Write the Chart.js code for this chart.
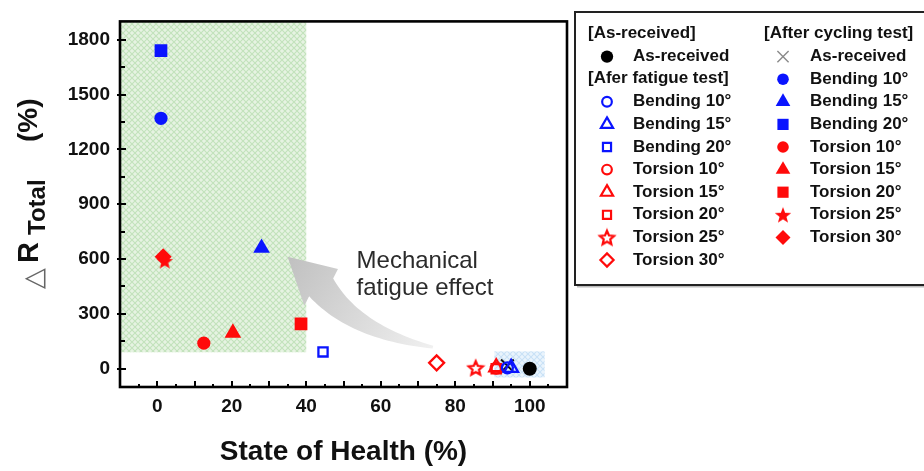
<!DOCTYPE html>
<html>
<head>
<meta charset="utf-8">
<script src="https://cdn.jsdelivr.net/npm/chart.js@4.4.1/dist/chart.umd.min.js"></script>
<style>
html,body{margin:0;padding:0;background:#fff;}
#wrap{width:924px;height:471px;position:relative;overflow:hidden;}
</style>
</head>
<body>
<div id="wrap"><canvas id="c" width="924" height="471"></canvas></div>
<script>
// ---------- data ----------
const seriesNames = ['Bending 10°','Bending 15°','Bending 20°','Torsion 10°','Torsion 15°','Torsion 20°','Torsion 25°','Torsion 30°'];
const asReceivedName = 'As-received';
const asReceivedSOH = [100];
const asReceivedDR = [0];
const cycledAsReceivedSOH = [94];
const cycledAsReceivedDR = [16];
const fatigueSOH = [94, 95, 44.5, 91, 91, 91, 85.5, 75];
const fatigueDR  = [5, 5, 92, 3, 8, 0, 5, 32];
const cyclingSOH = [1, 28, 1, 12.5, 20.3, 38.6, 2, 1.6];
const cyclingDR  = [1370, 660, 1740, 140, 196, 245, 590, 612];
const xTickLabels = [0, 20, 40, 60, 80, 100];
const yTickLabels = [0, 300, 600, 900, 1200, 1500, 1800];
const legendHeaders = ['[As-received]', '[Afer fatigue test]', '[After cycling test]'];
const xTitle = 'State of Health (%)';
const yTitleParts = ['△', 'R', 'Total', '(%)'];
const annotationLines = ['Mechanical', 'fatigue effect'];

// ---------- styling helpers ----------
const FONT = "'Liberation Sans', Arial, Helvetica, sans-serif";
Chart.defaults.font.family = FONT;
const BLUE = '#0a14ff', RED = '#ff0a0a';
const shapes = ['circle','triangle','rect','circle','triangle','rect','star','rectRot'];
const openRadius = {circle:5.5, triangle:8, rect:6.5, rectRot:7.5};
const fillRadius = {circle:6.6, triangle:9.6, rect:9, rectRot:8.5};

function starCanvas(color, filled) {
  const s = 20, c = document.createElement('canvas');
  c.width = s; c.height = s;
  const g = c.getContext('2d');
  const ro = filled ? 8.6 : 7.4, ri = filled ? 3.6 : 3.4;
  g.beginPath();
  for (let i = 0; i < 10; i++) {
    const r = i % 2 ? ri : ro;
    const a = -Math.PI / 2 + i * Math.PI / 5;
    const px = s / 2 + r * Math.cos(a), py = s / 2 + 0.8 + r * Math.sin(a);
    i ? g.lineTo(px, py) : g.moveTo(px, py);
  }
  g.closePath();
  if (filled) { g.fillStyle = color; g.fill(); }
  else { g.strokeStyle = color; g.lineWidth = 2.2; g.lineJoin = 'miter'; g.stroke(); }
  return c;
}

function pt(xv, yv) { return [{x: xv, y: yv}]; }

const datasets = [];
datasets.push({
  label: asReceivedName, group: 0, data: pt(asReceivedSOH[0], asReceivedDR[0]),
  pointStyle: 'circle', pointRadius: 7, pointBackgroundColor: '#000', pointBorderColor: '#000', pointBorderWidth: 0,
  legendColor: '#000'
});
seriesNames.forEach((n, i) => {
  const col = i < 3 ? BLUE : RED, sh = shapes[i];
  datasets.push({
    label: n, group: 1, data: pt(fatigueSOH[i], fatigueDR[i]),
    pointStyle: sh === 'star' ? starCanvas(col, false) : sh,
    pointRadius: sh === 'star' ? 8 : openRadius[sh],
    pointBackgroundColor: 'rgba(255,255,255,0)', pointBorderColor: col, pointBorderWidth: 2.3,
    legendColor: col, open: true
  });
});
datasets.push({
  label: asReceivedName, group: 2, data: pt(cycledAsReceivedSOH[0], cycledAsReceivedDR[0]),
  pointStyle: 'crossRot', pointRadius: 9, pointBackgroundColor: '#000', pointBorderColor: '#111', pointBorderWidth: 2,
  legendColor: '#8a8a8a'
});
seriesNames.forEach((n, i) => {
  const col = i < 3 ? BLUE : RED, sh = shapes[i];
  datasets.push({
    label: n, group: 2, data: pt(cyclingSOH[i], cyclingDR[i]),
    pointStyle: sh === 'star' ? starCanvas(col, true) : sh,
    pointRadius: sh === 'star' ? 9 : fillRadius[sh],
    pointBackgroundColor: col, pointBorderColor: col, pointBorderWidth: 0,
    legendColor: col
  });
});

function makePattern(ctx, bg, line) {
  const p = document.createElement('canvas'); p.width = 6; p.height = 6;
  const g = p.getContext('2d');
  g.fillStyle = bg; g.fillRect(0, 0, 6, 6);
  g.strokeStyle = line; g.lineWidth = 1.1;
  g.beginPath();
  g.moveTo(-1, -1); g.lineTo(7, 7);
  g.moveTo(7, -1); g.lineTo(-1, 7);
  g.stroke();
  return ctx.createPattern(p, 'repeat');
}

function drawMarker(ctx, ds, x, y, scale) {
  ctx.save();
  ctx.fillStyle = ds.open ? 'rgba(255,255,255,0)' : ds.legendColor;
  ctx.strokeStyle = ds.legendColor;
  const isX = ds.pointStyle === 'crossRot';
  ctx.lineWidth = isX ? 1.4 : (ds.pointBorderWidth || 0) * 0.95;
  const opts = {pointStyle: ds.pointStyle, rotation: 0, radius: ds.pointRadius * scale, borderWidth: isX ? 1.4 : ds.pointBorderWidth};
  if (Chart.helpers && Chart.helpers.drawPoint) {
    Chart.helpers.drawPoint(ctx, opts, x, y);
  }
  ctx.restore();
}

const decor = {
  id: 'decor',
  beforeDatasetsDraw(chart) {
    const {ctx, chartArea: a, scales: {x, y}} = chart;
    ctx.save();
    ctx.beginPath(); ctx.rect(a.left, a.top, a.width, a.height); ctx.clip();
    // green shaded region
    ctx.fillStyle = makePattern(ctx, '#e6f3e2', '#c2e2bb');
    const gx = x.getPixelForValue(40), gy = y.getPixelForValue(90);
    ctx.fillRect(a.left, a.top, gx - a.left, gy - a.top);
    // blue shaded region
    ctx.fillStyle = makePattern(ctx, '#eaf4fc', '#c9e1f6');
    const bx0 = x.getPixelForValue(90.5), bx1 = x.getPixelForValue(104);
    const by0 = y.getPixelForValue(95), by1 = y.getPixelForValue(-48);
    ctx.fillRect(bx0, by0, bx1 - bx0, by1 - by0);
    // curved arrow
    const P = (vx, vy) => ({x: x.getPixelForValue(vx), y: y.getPixelForValue(vy)});
    const tip = P(35, 612), H = P(44, 445), C = P(53, 200), T = P(74, 118);
    let dx = tip.x - H.x, dy = tip.y - H.y, dl = Math.hypot(dx, dy);
    dx /= dl; dy /= dl;
    const nx = -dy, ny = dx, hw = 25;
    const sideA = [], sideB = [];
    const N = 30;
    for (let i = 0; i <= N; i++) {
      const t = i / N;
      const qx = (1-t)*(1-t)*H.x + 2*(1-t)*t*C.x + t*t*T.x;
      const qy = (1-t)*(1-t)*H.y + 2*(1-t)*t*C.y + t*t*T.y;
      let tx = 2*(1-t)*(C.x-H.x) + 2*t*(T.x-C.x);
      let ty = 2*(1-t)*(C.y-H.y) + 2*t*(T.y-C.y);
      const tl = Math.hypot(tx, ty); tx /= tl; ty /= tl;
      const mx = -ty, my = tx;
      const w = 15*(1-t) + 1.5*t;
      sideA.push([qx + mx*w, qy + my*w]);
      sideB.push([qx - mx*w, qy - my*w]);
    }
    const grad = ctx.createLinearGradient(T.x, T.y, tip.x, tip.y);
    grad.addColorStop(0, '#f0f0f0');
    grad.addColorStop(1, '#c0c0c0');
    ctx.fillStyle = grad;
    ctx.beginPath();
    ctx.moveTo(tip.x, tip.y);
    ctx.lineTo(H.x + nx*hw, H.y + ny*hw);
    sideB.forEach(p => ctx.lineTo(p[0], p[1]));
    for (let i = sideA.length - 1; i >= 0; i--) ctx.lineTo(sideA[i][0], sideA[i][1]);
    ctx.lineTo(H.x - nx*hw, H.y - ny*hw);
    ctx.closePath();
    ctx.fill();
    // annotation text
    ctx.fillStyle = '#2b2b2b';
    ctx.font = '24px ' + FONT;
    ctx.textAlign = 'left'; ctx.textBaseline = 'alphabetic';
    ctx.fillText(annotationLines[0], x.getPixelForValue(53.5), y.getPixelForValue(553));
    ctx.fillText(annotationLines[1], x.getPixelForValue(53.5), y.getPixelForValue(403));
    ctx.restore();
  },
  afterDatasetsDraw(chart) {
    const {ctx, chartArea: a, scales: {x, y}} = chart;
    ctx.save();
    // ticks (inside)
    ctx.strokeStyle = '#000';
    ctx.lineWidth = 2;
    ctx.beginPath();
    for (let v = -5; v <= 105; v += 5) {
      const px = Math.round(x.getPixelForValue(v));
      const len = v % 10 === 0 ? 6 : 3;
      ctx.moveTo(px, a.bottom); ctx.lineTo(px, a.bottom - len);
    }
    for (let v = 0; v <= 1800; v += 150) {
      const py = Math.round(y.getPixelForValue(v));
      if (v % 300 === 0) { ctx.moveTo(a.left - 3, py); ctx.lineTo(a.left + 6, py); }
      else { ctx.moveTo(a.left, py); ctx.lineTo(a.left + 5, py); }
    }
    ctx.stroke();
    // frame
    ctx.lineWidth = 2.6;
    ctx.strokeStyle = '#000';
    ctx.strokeRect(a.left, a.top, a.width, a.height);

    // x title
    ctx.fillStyle = '#111';
    ctx.font = 'bold 28px ' + FONT;
    ctx.textAlign = 'center'; ctx.textBaseline = 'alphabetic';
    ctx.fillText(xTitle, (a.left + a.right) / 2, 460);

    // y title (rotated, with subscript)
    ctx.save();
    ctx.rotate(-Math.PI / 2);
    ctx.textAlign = 'left';
    ctx.fillStyle = '#666';
    ctx.font = '27px "DejaVu Sans", sans-serif';
    ctx.fillText(yTitleParts[0], -289, 42);
    ctx.fillStyle = '#111';
    ctx.font = 'bold 29px ' + FONT;
    ctx.fillText(yTitleParts[1], -263, 38);
    ctx.font = 'bold 24px ' + FONT;
    ctx.fillText(yTitleParts[2], -235, 45);
    ctx.font = 'bold 28px ' + FONT;
    ctx.fillText(yTitleParts[3], -142, 37);
    ctx.restore();

    // legend
    const L = {left: 575, top: 12, right: 935, bottom: 285};
    ctx.fillStyle = '#fff';
    ctx.fillRect(L.left, L.top, L.right - L.left, L.bottom - L.top);
    ctx.lineWidth = 2;
    ctx.strokeStyle = '#222';
    ctx.strokeRect(L.left, L.top, L.right - L.left, L.bottom - L.top);
    ctx.fillStyle = '#bbb';
    ctx.fillRect(L.left + 2, L.bottom + 1, L.right - L.left, 1.5);

    const row0 = 33, dy = 22.6;
    const col = [{hx: 588, mx: 607, lx: 633}, {hx: 764, mx: 783, lx: 810}];
    ctx.font = 'bold 17px ' + FONT;
    ctx.textBaseline = 'middle';
    ctx.textAlign = 'left';
    ctx.fillStyle = '#111';
    ctx.fillText(legendHeaders[0], col[0].hx, row0);
    ctx.fillText(legendHeaders[1], col[0].hx, row0 + 2 * dy);
    ctx.fillText(legendHeaders[2], col[1].hx, row0);
    const ds = chart.data.datasets;
    const rows = [];
    rows.push({d: ds[0], c: 0, r: 1});
    for (let i = 0; i < 8; i++) rows.push({d: ds[1 + i], c: 0, r: 3 + i});
    rows.push({d: ds[9], c: 1, r: 1});
    for (let i = 0; i < 8; i++) rows.push({d: ds[10 + i], c: 1, r: 2 + i});
    rows.forEach(it => {
      const yy = row0 + it.r * dy + 1;
      drawMarker(ctx, it.d, col[it.c].mx, yy, 0.88);
      ctx.fillStyle = '#111';
      ctx.font = 'bold 17px ' + FONT;
      ctx.textBaseline = 'middle';
      ctx.fillText(it.d.label, col[it.c].lx, yy);
    });
    ctx.restore();
  }
};

new Chart(document.getElementById('c'), {
  type: 'scatter',
  data: {datasets},
  options: {
    responsive: false,
    animation: false,
    devicePixelRatio: 1,
    events: [],
    layout: {padding: {top: 13, right: 357, left: 0, bottom: 0}},
    plugins: {legend: {display: false}, tooltip: {enabled: false}, title: {display: false}},
    scales: {
      x: {
        type: 'linear', min: -10, max: 110,
        afterFit: s => { s.height = 84; },
        afterBuildTicks: s => { s.ticks = xTickLabels.map(v => ({value: v})); },
        grid: {display: false, drawTicks: false},
        border: {display: false},
        ticks: {
          autoSkip: false, maxRotation: 0, padding: 8, color: '#111',
          font: {size: 19, weight: 'bold', family: FONT},
          callback: v => String(v)
        }
      },
      y: {
        type: 'linear', min: -100, max: 1900,
        afterFit: s => { s.width = 120; },
        afterBuildTicks: s => { s.ticks = yTickLabels.map(v => ({value: v})); },
        grid: {display: false, drawTicks: false},
        border: {display: false},
        ticks: {
          autoSkip: false, padding: 10, color: '#111',
          font: {size: 19, weight: 'bold', family: FONT},
          callback: v => String(v)
        }
      }
    }
  },
  plugins: [decor]
});
</script>
</body>
</html>
